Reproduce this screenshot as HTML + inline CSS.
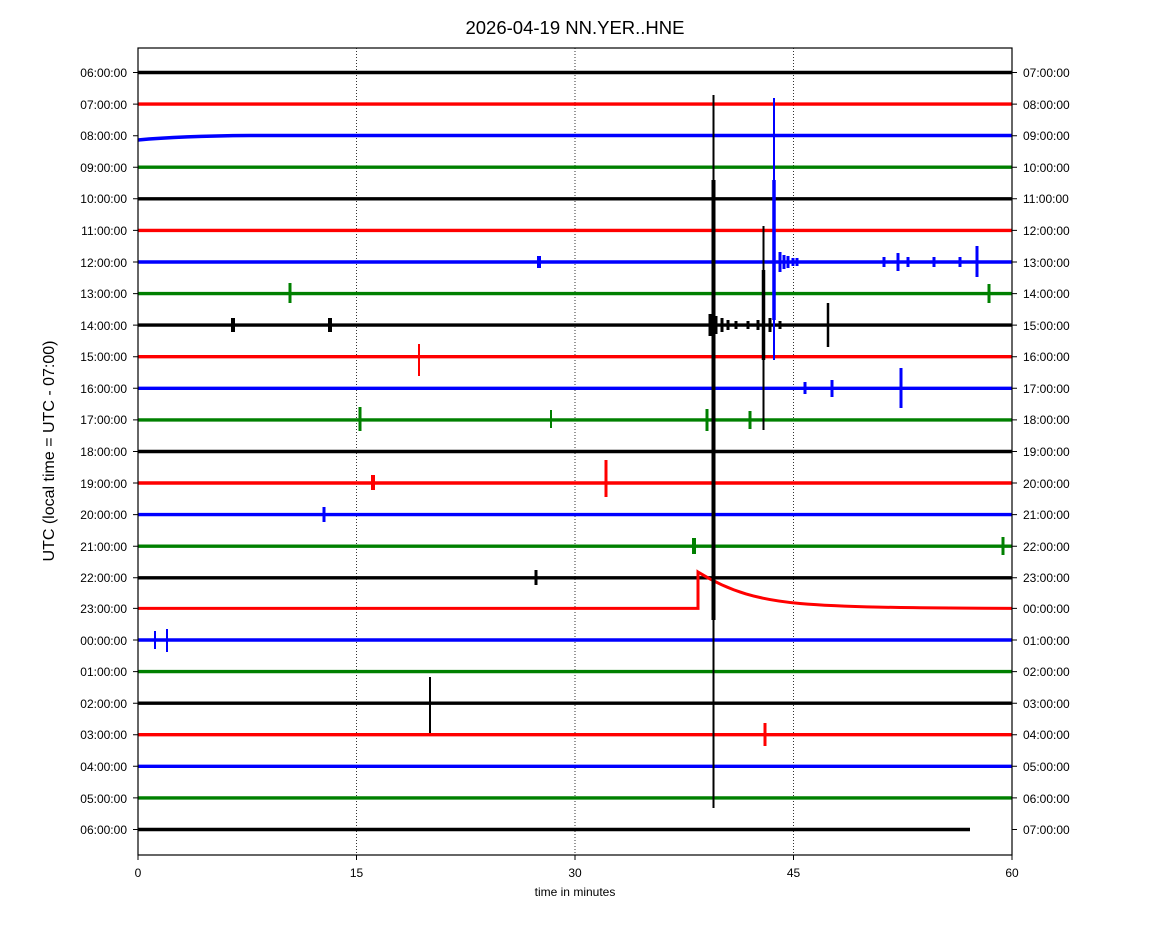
<!DOCTYPE html>
<html><head><meta charset="utf-8"><style>
body{margin:0;background:#fff;}
svg{display:block;font-family:"Liberation Sans","DejaVu Sans",sans-serif;}
</style></head><body>
<svg width="1150" height="950" viewBox="0 0 1150 950" xmlns="http://www.w3.org/2000/svg">
<rect width="1150" height="950" fill="#fff"/>
<text x="575" y="34" font-size="18.5" text-anchor="middle">2026-04-19 NN.YER..HNE</text>
<g stroke="#000" stroke-width="0.8" stroke-dasharray="1,2">
<line x1="356.5" y1="48" x2="356.5" y2="855"/>
<line x1="575" y1="48" x2="575" y2="855"/>
<line x1="793.5" y1="48" x2="793.5" y2="855"/>
</g>
<g id="traces" stroke-width="3.4" fill="none">
<line x1="138" y1="72.5" x2="1012" y2="72.5" stroke="#000"/>
<line x1="138" y1="104.1" x2="1012" y2="104.1" stroke="#f00"/>
<path d="M138 140 Q180 136 250 135.5 L1012 135.5" stroke="#00f"/>
<line x1="138" y1="167.2" x2="1012" y2="167.2" stroke="#008000"/>
<line x1="138" y1="198.8" x2="1012" y2="198.8" stroke="#000"/>
<line x1="138" y1="230.4" x2="1012" y2="230.4" stroke="#f00"/>
<line x1="138" y1="262" x2="1012" y2="262" stroke="#00f"/>
<line x1="138" y1="293.6" x2="1012" y2="293.6" stroke="#008000"/>
<line x1="138" y1="325.1" x2="1012" y2="325.1" stroke="#000"/>
<line x1="138" y1="356.7" x2="1012" y2="356.7" stroke="#f00"/>
<line x1="138" y1="388.3" x2="1012" y2="388.3" stroke="#00f"/>
<line x1="138" y1="419.9" x2="1012" y2="419.9" stroke="#008000"/>
<line x1="138" y1="451.5" x2="1012" y2="451.5" stroke="#000"/>
<line x1="138" y1="483" x2="1012" y2="483" stroke="#f00"/>
<line x1="138" y1="514.6" x2="1012" y2="514.6" stroke="#00f"/>
<line x1="138" y1="546.2" x2="1012" y2="546.2" stroke="#008000"/>
<line x1="138" y1="577.8" x2="1012" y2="577.8" stroke="#000"/>
<path d="M138 608.4 L698 608.4 L698 572 C730 592 760 600 800 603.5 S900 608 1012 608.4" stroke="#f00" stroke-width="3"/>
<line x1="138" y1="640" x2="1012" y2="640" stroke="#00f"/>
<line x1="138" y1="671.6" x2="1012" y2="671.6" stroke="#008000"/>
<line x1="138" y1="703.2" x2="1012" y2="703.2" stroke="#000"/>
<line x1="138" y1="734.7" x2="1012" y2="734.7" stroke="#f00"/>
<line x1="138" y1="766.3" x2="1012" y2="766.3" stroke="#00f"/>
<line x1="138" y1="797.9" x2="1012" y2="797.9" stroke="#008000"/>
<line x1="138" y1="829.5" x2="970" y2="829.5" stroke="#000"/>
</g>
<g stroke-width="2" fill="none">
<line x1="713.5" y1="95" x2="713.5" y2="808" stroke="#000" stroke-width="2"/>
<line x1="713.5" y1="180" x2="713.5" y2="620" stroke="#000" stroke-width="4"/>
<line x1="774" y1="98" x2="774" y2="360" stroke="#00f" stroke-width="2"/>
<line x1="774" y1="180" x2="774" y2="320" stroke="#00f" stroke-width="3.5"/>
<line x1="763.5" y1="226" x2="763.5" y2="430" stroke="#000" stroke-width="2"/>
<line x1="763.5" y1="270" x2="763.5" y2="360" stroke="#000" stroke-width="3.5"/>
<path d="M710 314V336M716 316V334M722 318V332M728 320V330M736 321V329M748 321V329M758 320V330M770 318V332M780 321V329" stroke="#000" stroke-width="3"/>
<path d="M780 252V272M784 255V269M788 256V268M793 258V266M797 258V266" stroke="#00f" stroke-width="3"/>
<path d="M884 257V267M898 253V271M908 257V267M934 257V267M960 257V267" stroke="#00f" stroke-width="3"/>
<line x1="828" y1="303" x2="828" y2="347" stroke="#000" stroke-width="2.5"/>
<line x1="419" y1="344" x2="419" y2="376" stroke="#f00" stroke-width="2"/>
<line x1="290" y1="283" x2="290" y2="303" stroke="#008000" stroke-width="3"/>
<line x1="989" y1="284" x2="989" y2="303" stroke="#008000" stroke-width="3"/>
<line x1="901" y1="368" x2="901" y2="408" stroke="#00f" stroke-width="3"/>
<line x1="832" y1="380" x2="832" y2="397" stroke="#00f" stroke-width="3"/>
<line x1="805" y1="382" x2="805" y2="394" stroke="#00f" stroke-width="3"/>
<line x1="360" y1="407" x2="360" y2="431" stroke="#008000" stroke-width="3"/>
<line x1="707" y1="409" x2="707" y2="431" stroke="#008000" stroke-width="3"/>
<line x1="750" y1="411" x2="750" y2="429" stroke="#008000" stroke-width="3"/>
<line x1="551" y1="410" x2="551" y2="428" stroke="#008000" stroke-width="2"/>
<line x1="606" y1="460" x2="606" y2="497" stroke="#f00" stroke-width="3"/>
<line x1="373" y1="475" x2="373" y2="490" stroke="#f00" stroke-width="4"/>
<line x1="324" y1="507" x2="324" y2="522" stroke="#00f" stroke-width="3"/>
<line x1="694" y1="538" x2="694" y2="554" stroke="#008000" stroke-width="4"/>
<line x1="1003" y1="537" x2="1003" y2="555" stroke="#008000" stroke-width="3"/>
<line x1="536" y1="570" x2="536" y2="585" stroke="#000" stroke-width="3"/>
<line x1="155" y1="631" x2="155" y2="649" stroke="#00f" stroke-width="2"/>
<line x1="167" y1="629" x2="167" y2="652" stroke="#00f" stroke-width="2"/>
<line x1="430" y1="677" x2="430" y2="733" stroke="#000" stroke-width="2"/>
<line x1="765" y1="723" x2="765" y2="746" stroke="#f00" stroke-width="3"/>
<line x1="539" y1="256" x2="539" y2="268" stroke="#00f" stroke-width="4"/>
<line x1="977" y1="246" x2="977" y2="277" stroke="#00f" stroke-width="3"/>
<line x1="233" y1="318" x2="233" y2="332" stroke="#000" stroke-width="4"/>
<line x1="330" y1="318" x2="330" y2="332" stroke="#000" stroke-width="4"/>
</g>
<rect x="138" y="48" width="874" height="807" fill="none" stroke="#000" stroke-width="1.2"/>
<g font-size="12" fill="#000">
<g text-anchor="end">
<text x="127" y="77">06:00:00</text><text x="127" y="109">07:00:00</text><text x="127" y="140">08:00:00</text><text x="127" y="172">09:00:00</text><text x="127" y="203">10:00:00</text><text x="127" y="235">11:00:00</text><text x="127" y="267">12:00:00</text><text x="127" y="298">13:00:00</text><text x="127" y="330">14:00:00</text><text x="127" y="361">15:00:00</text><text x="127" y="393">16:00:00</text><text x="127" y="424">17:00:00</text><text x="127" y="456">18:00:00</text><text x="127" y="488">19:00:00</text><text x="127" y="519">20:00:00</text><text x="127" y="551">21:00:00</text><text x="127" y="582">22:00:00</text><text x="127" y="613">23:00:00</text><text x="127" y="645">00:00:00</text><text x="127" y="676">01:00:00</text><text x="127" y="708">02:00:00</text><text x="127" y="739">03:00:00</text><text x="127" y="771">04:00:00</text><text x="127" y="803">05:00:00</text><text x="127" y="834">06:00:00</text>
</g>
<g>
<text x="1023" y="77">07:00:00</text><text x="1023" y="109">08:00:00</text><text x="1023" y="140">09:00:00</text><text x="1023" y="172">10:00:00</text><text x="1023" y="203">11:00:00</text><text x="1023" y="235">12:00:00</text><text x="1023" y="267">13:00:00</text><text x="1023" y="298">14:00:00</text><text x="1023" y="330">15:00:00</text><text x="1023" y="361">16:00:00</text><text x="1023" y="393">17:00:00</text><text x="1023" y="424">18:00:00</text><text x="1023" y="456">19:00:00</text><text x="1023" y="488">20:00:00</text><text x="1023" y="519">21:00:00</text><text x="1023" y="551">22:00:00</text><text x="1023" y="582">23:00:00</text><text x="1023" y="613">00:00:00</text><text x="1023" y="645">01:00:00</text><text x="1023" y="676">02:00:00</text><text x="1023" y="708">03:00:00</text><text x="1023" y="739">04:00:00</text><text x="1023" y="771">05:00:00</text><text x="1023" y="803">06:00:00</text><text x="1023" y="834">07:00:00</text>
</g>
<g stroke="#000" stroke-width="1">
<path d="M138 72.5h-5M138 104.1h-5M138 135.7h-5M138 167.2h-5M138 198.8h-5M138 230.4h-5M138 262h-5M138 293.6h-5M138 325.1h-5M138 356.7h-5M138 388.3h-5M138 419.9h-5M138 451.5h-5M138 483h-5M138 514.6h-5M138 546.2h-5M138 577.8h-5M138 608.4h-5M138 640h-5M138 671.6h-5M138 703.2h-5M138 734.7h-5M138 766.3h-5M138 797.9h-5M138 829.5h-5"/>
<path d="M1012 72.5h5M1012 104.1h5M1012 135.7h5M1012 167.2h5M1012 198.8h5M1012 230.4h5M1012 262h5M1012 293.6h5M1012 325.1h5M1012 356.7h5M1012 388.3h5M1012 419.9h5M1012 451.5h5M1012 483h5M1012 514.6h5M1012 546.2h5M1012 577.8h5M1012 608.4h5M1012 640h5M1012 671.6h5M1012 703.2h5M1012 734.7h5M1012 766.3h5M1012 797.9h5M1012 829.5h5"/>
<path d="M138 855v5M356.5 855v5M575 855v5M793.5 855v5M1012 855v5"/>
</g>
<g text-anchor="middle">
<text x="138" y="877">0</text><text x="356.5" y="877">15</text><text x="575" y="877">30</text><text x="793.5" y="877">45</text><text x="1012" y="877">60</text>
<text x="575" y="896">time in minutes</text>
</g>
<text transform="translate(54,451) rotate(-90)" text-anchor="middle" font-size="16">UTC (local time = UTC - 07:00)</text>
</g>
</svg>
</body></html>
